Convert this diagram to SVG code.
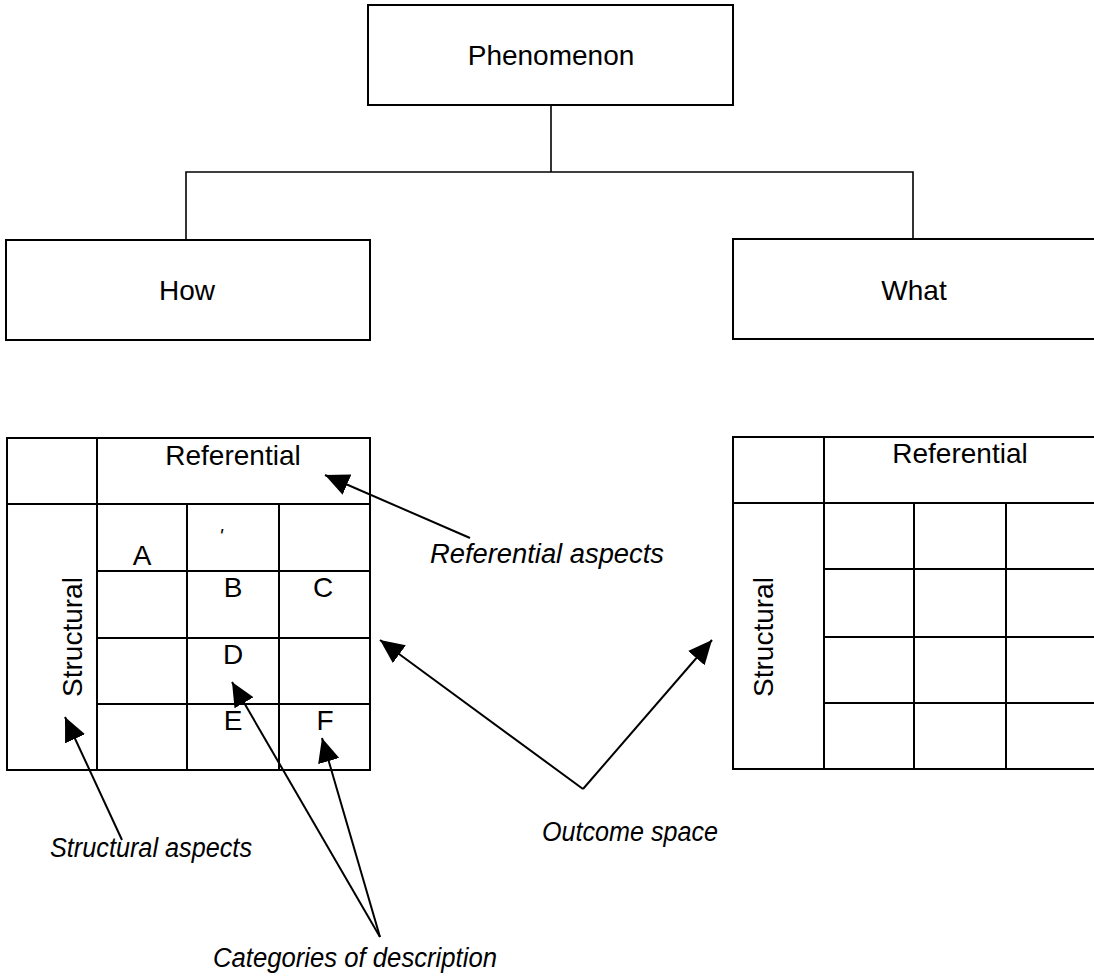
<svg xmlns="http://www.w3.org/2000/svg" width="1094" height="978" viewBox="0 0 1094 978">
  <style>
    .box { fill: #fff; stroke: #000; stroke-width: 2; }
    .grid { fill: none; stroke: #000; stroke-width: 2; }
    .link { fill: none; stroke: #000; stroke-width: 1.6; }
    .ptr { fill: none; stroke: #000; stroke-width: 2; marker-end: url(#head); }
    .lbl { font-family: "Liberation Sans", Arial, sans-serif; font-size: 28px; fill: #000; text-anchor: middle; }
    .note { font-family: "Liberation Sans", Arial, sans-serif; font-size: 27px; font-style: italic; fill: #000; }
  </style>
  <defs>
    <marker id="head" markerUnits="userSpaceOnUse" markerWidth="26" markerHeight="24" refX="24" refY="11" orient="auto">
      <path d="M0,0 L24,11 L0,22 Z" fill="#000"/>
    </marker>
  </defs>
  <rect width="1094" height="978" fill="#fff"/>

  <!-- tree connectors -->
  <g id="connectors">
    <path class="link" d="M551,105 V172"/>
    <path class="link" d="M186,240 V172 H913 V239"/>
  </g>

  <g id="phenomenon">
    <rect class="box" x="368" y="5" width="365" height="100"/>
    <text class="lbl" x="551" y="65">Phenomenon</text>
  </g>

  <g id="how">
    <rect class="box" x="6" y="240" width="364" height="100"/>
    <text class="lbl" x="187" y="300">How</text>
  </g>

  <g id="what">
    <rect class="box" x="733" y="239" width="370" height="100"/>
    <text class="lbl" x="914" y="300">What</text>
  </g>

  <!-- outcome space grid under "How" -->
  <g id="how-grid">
    <rect class="grid" x="7" y="438" width="363" height="332"/>
    <path class="grid" d="M7,504 H370 M97,438 V770 M187,504 V770 M279,504 V770 M97,571 H370 M97,638 H370 M97,704 H370"/>
    <text class="lbl" x="233" y="465">Referential</text>
    <text class="lbl" transform="translate(82,637) rotate(-90)">Structural</text>
    <text class="lbl" x="142" y="565">A</text>
    <text class="lbl" x="221" y="543" style="font-size:20px;font-style:italic">'</text>
    <text class="lbl" x="233" y="597">B</text>
    <text class="lbl" x="323" y="597">C</text>
    <text class="lbl" x="233" y="664">D</text>
    <text class="lbl" x="233" y="730">E</text>
    <text class="lbl" x="325" y="730">F</text>
  </g>

  <!-- outcome space grid under "What" -->
  <g id="what-grid">
    <rect class="grid" x="733" y="437" width="370" height="332"/>
    <path class="grid" d="M733,503 H1094 M824,437 V769 M914,503 V769 M1006,503 V769 M824,569 H1094 M824,637 H1094 M824,703 H1094"/>
    <text class="lbl" x="960" y="463">Referential</text>
    <text class="lbl" transform="translate(773,637) rotate(-90)">Structural</text>
  </g>

  <!-- annotation pointers -->
  <g id="pointers">
    <path class="ptr" d="M470,538 L325,475"/>
    <path class="ptr" d="M583,789 L380,640"/>
    <path class="ptr" d="M583,789 L712,640"/>
    <path class="ptr" d="M122,840 L65,717"/>
    <path class="ptr" d="M380,937 L232,682"/>
    <path class="ptr" d="M380,937 L322,738"/>
  </g>

  <g id="annotations">
    <text class="note" x="430" y="563" textLength="234" lengthAdjust="spacingAndGlyphs">Referential aspects</text>
    <text class="note" x="542" y="841" textLength="176" lengthAdjust="spacingAndGlyphs">Outcome space</text>
    <text class="note" x="50" y="857" textLength="202" lengthAdjust="spacingAndGlyphs">Structural aspects</text>
    <text class="note" x="213" y="967" textLength="284" lengthAdjust="spacingAndGlyphs">Categories of description</text>
  </g>
</svg>
